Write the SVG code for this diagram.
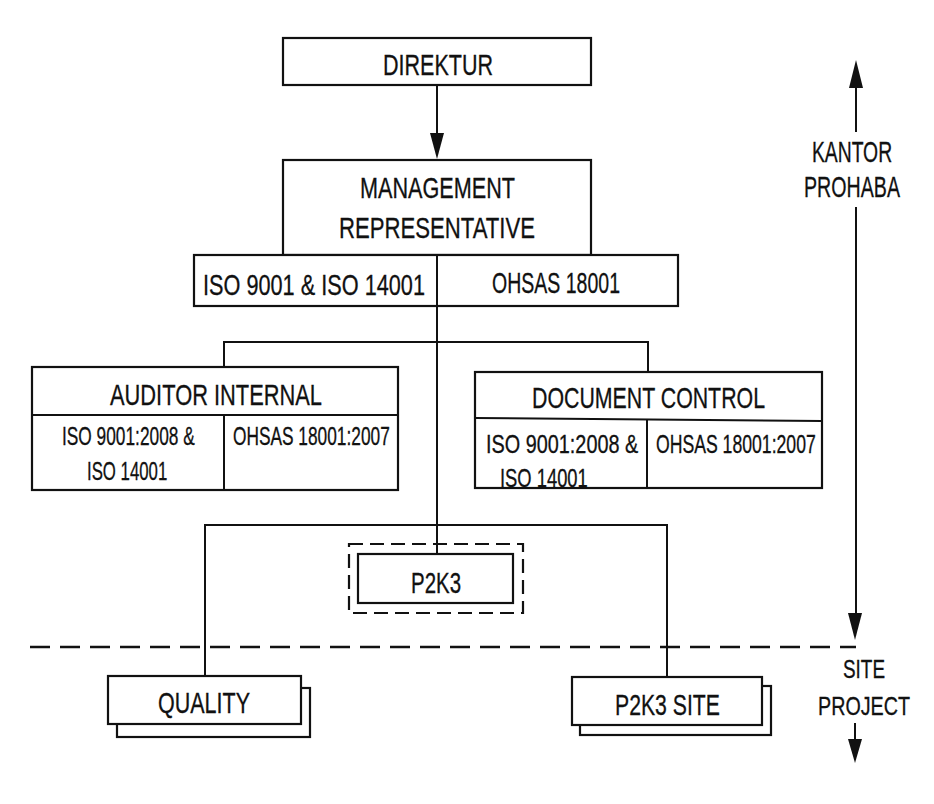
<svg xmlns="http://www.w3.org/2000/svg" width="934" height="804" viewBox="0 0 934 804">
<style>
.b{fill:#fff;stroke:#111;stroke-width:2.2}
.l{fill:none;stroke:#111;stroke-width:2}
.t{font-family:"Liberation Sans",Arial,sans-serif;fill:#111;font-size:29px;stroke:#111;stroke-width:0.3}
.s{font-family:"Liberation Sans",Arial,sans-serif;fill:#111;font-size:25px;stroke:#111;stroke-width:0.3}
.m{text-anchor:middle}
.ah{fill:#111}
</style>
<rect width="934" height="804" fill="#fff"/>
<g id="connectors">
<line class="l" x1="437" y1="85" x2="437" y2="140"/>
<polygon class="ah" points="430,133 444,133 437,159"/>
<line class="l" x1="437" y1="306" x2="437" y2="554"/>
<polyline class="l" points="224,367 224,342 648,342 648,372"/>
<polyline class="l" points="205,676 205,525 667,525 667,677"/>
<line x1="30" y1="647" x2="856" y2="647" stroke="#111" stroke-width="2.6" stroke-dasharray="20 10"/>
<line class="l" x1="856" y1="85" x2="856" y2="132"/>
<polygon class="ah" points="849,88 863,88 856,60"/>
<line class="l" x1="856" y1="207" x2="856" y2="616"/>
<polygon class="ah" points="848,613 862,613 855,640"/>
<line class="l" x1="855" y1="723" x2="855" y2="742"/>
<polygon class="ah" points="848,739 862,739 855,763"/>
</g>
<g id="direktur">
<rect class="b" x="283" y="38" width="308" height="47"/>
<text class="t" x="383" y="75" textLength="110" lengthAdjust="spacingAndGlyphs">DIREKTUR</text>
</g>
<g id="management">
<rect class="b" x="283" y="160" width="308" height="95"/>
<text class="t" x="360" y="198" textLength="155" lengthAdjust="spacingAndGlyphs">MANAGEMENT</text>
<text class="t" x="339" y="238" textLength="196" lengthAdjust="spacingAndGlyphs">REPRESENTATIVE</text>
</g>
<g id="standards">
<rect class="b" x="194" y="255" width="484" height="51"/>
<line class="l" x1="437" y1="255" x2="437" y2="306"/>
<text class="t" x="203" y="295" textLength="222" lengthAdjust="spacingAndGlyphs">ISO 9001 &amp; ISO 14001</text>
<text class="t" x="492" y="293" textLength="128" lengthAdjust="spacingAndGlyphs">OHSAS 18001</text>
</g>
<g id="auditor">
<rect class="b" x="32" y="367" width="366" height="123"/>
<line class="l" x1="32" y1="415" x2="398" y2="415"/>
<line class="l" x1="224" y1="415" x2="224" y2="490"/>
<text class="t" x="110" y="405" textLength="212" lengthAdjust="spacingAndGlyphs">AUDITOR INTERNAL</text>
<text class="s" transform="translate(62,445) scale(0.75,1)" textLength="177" lengthAdjust="spacingAndGlyphs">ISO 9001:2008 &amp;</text>
<text class="s" transform="translate(87,480) scale(0.75,1)" textLength="107" lengthAdjust="spacingAndGlyphs">ISO 14001</text>
<text class="s" transform="translate(233,445) scale(0.75,1)" textLength="209" lengthAdjust="spacingAndGlyphs">OHSAS 18001:2007</text>
</g>
<g id="document">
<rect class="b" x="475" y="372" width="347" height="116"/>
<line class="l" x1="475" y1="418" x2="822" y2="421"/>
<line class="l" x1="647" y1="419" x2="647" y2="488"/>
<text class="t" x="532" y="408" textLength="233" lengthAdjust="spacingAndGlyphs">DOCUMENT CONTROL</text>
<text class="s" transform="translate(486,453) scale(0.75,1)" textLength="203" lengthAdjust="spacingAndGlyphs">ISO 9001:2008 &amp;</text>
<text class="s" transform="translate(500,487) scale(0.75,1)" textLength="117" lengthAdjust="spacingAndGlyphs">ISO 14001</text>
<text class="s" transform="translate(656,453) scale(0.75,1)" textLength="213" lengthAdjust="spacingAndGlyphs">OHSAS 18001:2007</text>
</g>
<g id="p2k3">
<rect x="349" y="544" width="174" height="69" fill="none" stroke="#111" stroke-width="2.2" stroke-dasharray="14 7"/>
<rect class="b" x="358" y="554" width="155" height="49"/>
<text class="t" x="411" y="593" textLength="50" lengthAdjust="spacingAndGlyphs">P2K3</text>
</g>
<g id="quality">
<rect class="b" x="117" y="688" width="193" height="49"/>
<rect class="b" x="108" y="676" width="193" height="48"/>
<text class="t" x="158" y="713" textLength="92" lengthAdjust="spacingAndGlyphs">QUALITY</text>
</g>
<g id="p2k3site">
<rect class="b" x="580" y="686" width="191" height="49"/>
<rect class="b" x="572" y="677" width="190" height="48"/>
<text class="t" x="615" y="715" textLength="105" lengthAdjust="spacingAndGlyphs">P2K3 SITE</text>
</g>
<g id="labels">
<text class="t m" transform="translate(852,162) scale(0.75,1)" textLength="107" lengthAdjust="spacingAndGlyphs">KANTOR</text>
<text class="t m" transform="translate(852,197) scale(0.75,1)" textLength="128" lengthAdjust="spacingAndGlyphs">PROHABA</text>
<text class="s m" x="864" y="678" textLength="42" lengthAdjust="spacingAndGlyphs">SITE</text>
<text class="s m" x="864" y="715" textLength="92" lengthAdjust="spacingAndGlyphs">PROJECT</text>
</g>
</svg>
